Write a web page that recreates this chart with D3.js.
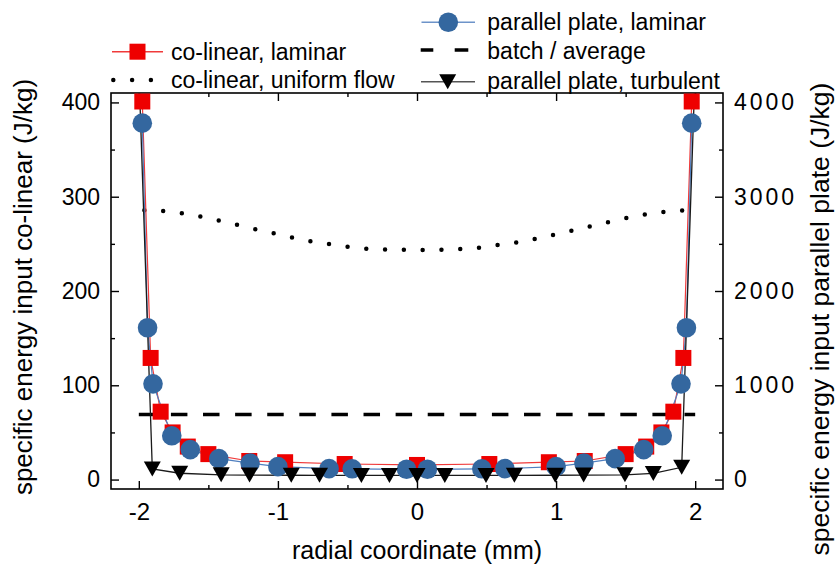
<!DOCTYPE html>
<html>
<head>
<meta charset="utf-8">
<script src="https://cdn.jsdelivr.net/npm/d3@7"></script>
<style>
  body { margin: 0; background: #fff; }
  text { font-family: "Liberation Sans", Arial, Helvetica, sans-serif; fill: #000; }
</style>
</head>
<body>
<svg id="chart" width="837" height="567"></svg>
<script>
// Tick values
const radialTicks = [-2, -1, 0, 1, 2];
const radialMinor = [-1.5, -0.5, 0.5, 1.5];
const colinearTicks = [0, 100, 200, 300, 400];
const colinearMinor = [50, 150, 250, 350];
const plateTicks = [0, 1000, 2000, 3000, 4000];
const plateMinor = [500, 1500, 2500, 3500];

// co-linear, laminar (J/kg, left axis)
const colinearX = [-1.975, -1.915, -1.843, -1.757, -1.648, -1.5, -1.206, -0.948, -0.52, 0,
                   0.52, 0.948, 1.206, 1.5, 1.648, 1.757, 1.843, 1.915, 1.975];
const colinearLaminar = [401, 129, 72, 50, 35, 27, 19.7, 18.4, 16.5, 15.5,
                         16.5, 18.4, 19.7, 27, 35, 50, 72, 129, 401];

// co-linear, uniform flow (J/kg, left axis)
const uniformX = [-1.96, -1.83, -1.69, -1.55, -1.42, -1.29, -1.15, -1.02, -0.88, -0.75, -0.61, -0.48, -0.34, -0.2, -0.07,
                  0.07, 0.2, 0.34, 0.48, 0.61, 0.75, 0.88, 1.02, 1.15, 1.29, 1.42, 1.55, 1.69, 1.83, 1.96];
const colinearUniform = [285.6, 284.9, 282.4, 278.8, 274.6, 270.0, 265.1, 260.9, 256.2, 252.3, 249.5, 246.4, 244.6, 243.8, 243.6,
                         243.6, 243.8, 244.6, 246.4, 249.5, 252.3, 256.2, 260.9, 265.1, 270.0, 274.6, 278.8, 282.4, 284.9, 285.6];

// batch / average (J/kg, left axis)
const batchX = [-2, 2];
const batchAverage = [69, 69];

// parallel plate, laminar (J/kg, right axis)
const plateX = [-1.975, -1.937, -1.898, -1.763, -1.63, -1.425, -1.2, -1.0, -0.632, -0.466, -0.075,
                0.075, 0.466, 0.632, 1.0, 1.2, 1.425, 1.63, 1.763, 1.898, 1.937, 1.975];
const plateLaminar = [3780, 1610, 1015, 464, 318, 222, 175, 137, 116, 114, 109,
                      109, 114, 116, 137, 175, 222, 318, 464, 1015, 1610, 3780];

// parallel plate, turbulent (J/kg, right axis)
const turbX = [-2.0, -1.903, -1.706, -1.408, -1.204, -0.904, -0.701, -0.4, -0.198, 0,
               0.2, 0.496, 0.7, 0.994, 1.198, 1.495, 1.699, 1.903, 2.0];
const plateTurbulent = [4360, 112, 67, 50, 48, 46, 45, 44, 44, 44,
                        44, 44, 45, 46, 48, 50, 65, 130, 4360];

const svg = d3.select("#chart");
const plotLeft = 111, plotRight = 723, plotTop = 93, plotBottom = 489;

const x = d3.scaleLinear().domain([-2.2, 2.2]).range([plotLeft, plotRight]);
const yL = d3.scaleLinear().domain([-10, 410]).range([plotBottom, plotTop]);
const yR = d3.scaleLinear().domain([-100, 4100]).range([plotBottom, plotTop]);

svg.append("defs").append("clipPath").attr("id", "plot-clip")
  .append("rect").attr("x", plotLeft).attr("y", plotTop)
  .attr("width", plotRight - plotLeft).attr("height", plotBottom - plotTop);

// ---- axes (ticks point inward) ----
function styleAxis(g, size, spacing) {
  g.select(".domain").remove();
  g.selectAll(".tick line").attr("stroke", "#000").attr("stroke-width", 1.4);
  g.selectAll("text").attr("font-size", size)
    .attr("font-family", "'Liberation Sans', Arial, sans-serif")
    .attr("fill", "#000");
  if (spacing) g.selectAll("text").attr("letter-spacing", spacing);
}

svg.append("g").attr("transform", `translate(0,${plotBottom})`)
  .call(d3.axisBottom(x).tickValues(radialTicks).tickSizeInner(-8).tickSizeOuter(0).tickPadding(14)
    .tickFormat(d => d < 0 ? "-" + Math.abs(d) : String(d)))
  .call(g => styleAxis(g, 24));
svg.append("g").attr("transform", `translate(0,${plotBottom})`)
  .call(d3.axisBottom(x).tickValues(radialMinor).tickSizeInner(-4).tickSizeOuter(0).tickFormat(""))
  .call(g => styleAxis(g, 24));
svg.append("g").attr("transform", `translate(0,${plotTop})`)
  .call(d3.axisTop(x).tickValues(radialTicks).tickSizeInner(-8).tickSizeOuter(0).tickFormat(""))
  .call(g => styleAxis(g, 24));
svg.append("g").attr("transform", `translate(0,${plotTop})`)
  .call(d3.axisTop(x).tickValues(radialMinor).tickSizeInner(-4).tickSizeOuter(0).tickFormat(""))
  .call(g => styleAxis(g, 24));

svg.append("g").attr("transform", `translate(${plotLeft},0)`)
  .call(d3.axisLeft(yL).tickValues(colinearTicks).tickSizeInner(-8).tickSizeOuter(0).tickPadding(11)
    .tickFormat(d3.format("d")))
  .call(g => styleAxis(g, 23));
svg.append("g").attr("transform", `translate(${plotLeft},0)`)
  .call(d3.axisLeft(yL).tickValues(colinearMinor).tickSizeInner(-4).tickSizeOuter(0).tickFormat(""))
  .call(g => styleAxis(g, 23));

svg.append("g").attr("transform", `translate(${plotRight},0)`)
  .call(d3.axisRight(yR).tickValues(plateTicks).tickSizeInner(-8).tickSizeOuter(0).tickPadding(11)
    .tickFormat(d3.format("d")))
  .call(g => styleAxis(g, 23, 3));
svg.append("g").attr("transform", `translate(${plotRight},0)`)
  .call(d3.axisRight(yR).tickValues(plateMinor).tickSizeInner(-4).tickSizeOuter(0).tickFormat(""))
  .call(g => styleAxis(g, 23));

// frame
svg.append("rect").attr("x", plotLeft).attr("y", plotTop)
  .attr("width", plotRight - plotLeft).attr("height", plotBottom - plotTop)
  .attr("fill", "none").attr("stroke", "#000").attr("stroke-width", 1.6);

// axis titles
svg.append("text").attr("x", x(0)).attr("y", 559).attr("text-anchor", "middle")
  .attr("font-size", 25).text("radial coordinate (mm)");
svg.append("text").attr("transform", "translate(32,287) rotate(-90)").attr("text-anchor", "middle")
  .attr("font-size", 26).text("specific energy input co-linear (J/kg)");
svg.append("text").attr("transform", "translate(829,319) rotate(-90)").attr("text-anchor", "middle")
  .attr("font-size", 26.5).text("specific energy input parallel plate (J/kg)");

// ---- data ----
const plot = svg.append("g").attr("clip-path", "url(#plot-clip)");

const zip = (xs, ys) => xs.map((v, i) => [v, ys[i]]);

// uniform flow (dotted)
plot.append("path")
  .datum(zip(uniformX, colinearUniform))
  .attr("d", d3.line().x(d => x(d[0])).y(d => yL(d[1])))
  .attr("fill", "none").attr("stroke", "#000").attr("stroke-width", 4.5)
  .attr("stroke-linecap", "round").attr("stroke-dasharray", "0 18.8");

// batch / average (dashed)
plot.append("path")
  .datum(zip(batchX, batchAverage))
  .attr("d", d3.line().x(d => x(d[0])).y(d => yL(d[1])))
  .attr("fill", "none").attr("stroke", "#000").attr("stroke-width", 3.3)
  .attr("stroke-dasharray", "16.5 15.6");

// co-linear, laminar
const colData = zip(colinearX, colinearLaminar);
plot.append("path").datum(colData)
  .attr("d", d3.line().x(d => x(d[0])).y(d => yL(d[1])))
  .attr("fill", "none").attr("stroke", "#f03a3a").attr("stroke-width", 1.2);
const sq = 16;
svg.append("g").selectAll("rect").data(colData).join("rect")
  .attr("x", d => x(d[0]) - sq / 2).attr("y", d => yL(d[1]) - sq / 2)
  .attr("width", sq).attr("height", sq).attr("fill", "#ee0000");

// parallel plate, laminar
const plateData = zip(plateX, plateLaminar);
plot.append("path").datum(plateData)
  .attr("d", d3.line().x(d => x(d[0])).y(d => yR(d[1])))
  .attr("fill", "none").attr("stroke", "#4f7fbf").attr("stroke-width", 1.2);
svg.append("g").selectAll("circle").data(plateData).join("circle")
  .attr("cx", d => x(d[0])).attr("cy", d => yR(d[1])).attr("r", 9.8)
  .attr("fill", "#34679f");

// parallel plate, turbulent
const turbData = zip(turbX, plateTurbulent);
plot.append("path").datum(turbData)
  .attr("d", d3.line().x(d => x(d[0])).y(d => yR(d[1])))
  .attr("fill", "none").attr("stroke", "#1a1a1a").attr("stroke-width", 1.3);
const triW = 17, triH = 15;
const tri = `M${-triW / 2},${-triH / 2}L${triW / 2},${-triH / 2}L0,${triH / 2}Z`;
svg.append("g").selectAll("path").data(turbData.filter(d => d[1] <= yR.domain()[1])).join("path")
  .attr("transform", d => `translate(${x(d[0])},${yR(d[1])})`)
  .attr("d", tri).attr("fill", "#000");

// ---- legend ----
const lg = svg.append("g").attr("font-size", 23);

// co-linear, laminar
lg.append("line").attr("x1", 112).attr("x2", 163).attr("y1", 51.7).attr("y2", 51.7)
  .attr("stroke", "#f03a3a").attr("stroke-width", 1.5);
lg.append("rect").attr("x", 137.5 - sq / 2).attr("y", 51.7 - sq / 2).attr("width", sq).attr("height", sq).attr("fill", "#ee0000");
lg.append("text").attr("x", 171).attr("y", 59.5).text("co-linear, laminar");

// co-linear, uniform flow
lg.append("line").attr("x1", 113.3).attr("x2", 152).attr("y1", 80).attr("y2", 80)
  .attr("stroke", "#000").attr("stroke-width", 4.5).attr("stroke-linecap", "round").attr("stroke-dasharray", "0 18.8");
lg.append("text").attr("x", 171).attr("y", 88).text("co-linear, uniform flow");

// parallel plate, laminar
lg.append("line").attr("x1", 421.5).attr("x2", 475).attr("y1", 22.3).attr("y2", 22.3)
  .attr("stroke", "#6d93c9").attr("stroke-width", 1.5);
lg.append("circle").attr("cx", 448.3).attr("cy", 22.3).attr("r", 9.8).attr("fill", "#34679f");
lg.append("text").attr("x", 487.3).attr("y", 30).text("parallel plate, laminar");

// batch / average
lg.append("line").attr("x1", 420.7).attr("x2", 468.3).attr("y1", 50).attr("y2", 50)
  .attr("stroke", "#000").attr("stroke-width", 3.3).attr("stroke-dasharray", "12.6 21.4 14");
lg.append("text").attr("x", 487.3).attr("y", 58.5).text("batch / average");

// parallel plate, turbulent
lg.append("line").attr("x1", 421).attr("x2", 475).attr("y1", 81.7).attr("y2", 81.7)
  .attr("stroke", "#555").attr("stroke-width", 1.5);
lg.append("path").attr("transform", "translate(447.7,81.7)").attr("d", tri).attr("fill", "#000");
lg.append("text").attr("x", 487.3).attr("y", 88.5).text("parallel plate, turbulent");
</script>
</body>
</html>
